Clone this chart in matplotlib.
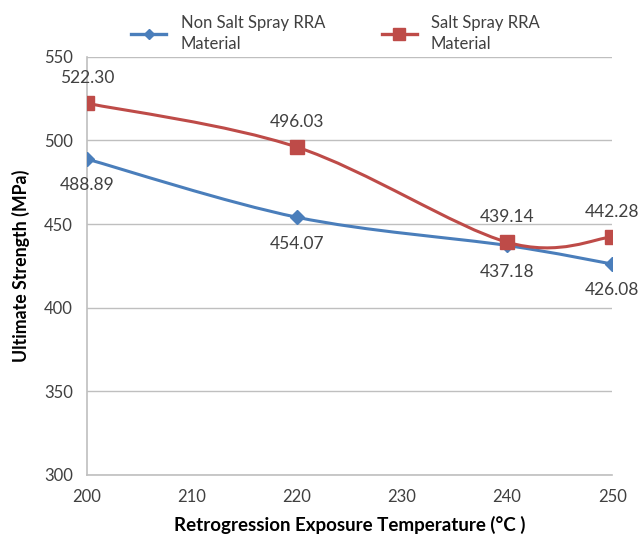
import numpy as np
import matplotlib.pyplot as plt
from matplotlib.path import Path
from matplotlib.patches import PathPatch

plt.rcParams['font.family'] = ['Lato', 'DejaVu Sans']

temps = [200, 220, 240, 250]
non_salt = [488.89, 454.07, 437.18, 426.08]
salt = [522.30, 496.03, 439.14, 442.28]
x_ticks = [200, 210, 220, 230, 240, 250]
y_ticks = [300, 350, 400, 450, 500, 550]

BLUE = "#4A7EBB"
RED = "#BE4B48"
TXT = "#404040"


def smooth_path(xs, ys):
    # Excel-style smoothed line: cubic Bezier segments, Catmull-Rom tangents
    pts = np.column_stack([xs, ys]).astype(float)
    n = len(pts)
    verts = [pts[0]]
    codes = [Path.MOVETO]
    for i in range(n - 1):
        p0 = pts[max(i - 1, 0)]
        p1 = pts[i]
        p2 = pts[i + 1]
        p3 = pts[min(i + 2, n - 1)]
        c1 = p1 + (p2 - p0) / 6.0
        c2 = p2 - (p3 - p1) / 6.0
        verts += [c1, c2, p2]
        codes += [Path.CURVE4] * 3
    return Path(verts, codes)


fig = plt.figure(figsize=(6.39, 5.42), dpi=100)
ax = fig.add_axes([0.136, 0.124, 0.822, 0.771])

for ys, col, mk, ms, lab in [(non_salt, BLUE, "D", 7, "Non Salt Spray RRA\nMaterial"),
                             (salt, RED, "s", 10.5, "Salt Spray RRA\nMaterial")]:
    ax.add_patch(PathPatch(smooth_path(temps, ys), facecolor="none",
                           edgecolor=col, lw=2.2, zorder=3))
    ax.plot(temps, ys, ls="none", marker=mk, ms=ms, color=col, zorder=4)
    ax.plot([], [], color=col, lw=2.4, marker=mk, ms=ms - 2, label=lab)

for x, y in zip(temps, salt):
    ax.annotate(f"{y:.2f}", (x, y), xytext=(0, 18), textcoords="offset points",
                ha="center", va="center", fontsize=12.5, color=TXT,
                annotation_clip=False)
for x, y in zip(temps, non_salt):
    ax.annotate(f"{y:.2f}", (x, y), xytext=(0, -19), textcoords="offset points",
                ha="center", va="center", fontsize=12.5, color=TXT,
                annotation_clip=False)

ax.set_xlim(200, 250)
ax.set_ylim(300, 550)
ax.set_xticks(x_ticks)
ax.set_yticks(y_ticks)
ax.tick_params(length=0, labelsize=12, labelcolor=TXT, pad=10)
ax.grid(axis="y", color="#BFBFBF", lw=1)
ax.set_axisbelow(True)
for s in ["top", "right"]:
    ax.spines[s].set_visible(False)
for s in ["left", "bottom"]:
    ax.spines[s].set_color("#BFBFBF")
    ax.spines[s].set_linewidth(1.2)

ax.set_xlabel("Retrogression Exposure Temperature (°C )", fontsize=13.5,
              fontweight="bold", color="black", labelpad=8)
ax.set_ylabel("Ultimate Strength (MPa)", fontsize=12.8, fontweight="bold",
              color="black", labelpad=10)

leg = fig.legend(loc="upper center", bbox_to_anchor=(0.525, 1.0), ncol=2,
                 frameon=False, fontsize=12, handlelength=2.1,
                 handletextpad=0.85, columnspacing=3.4, labelcolor=TXT)
for t in leg.get_texts():
    t.set_linespacing(1.35)

plt.savefig("out.png", dpi=100)
plt.close()
